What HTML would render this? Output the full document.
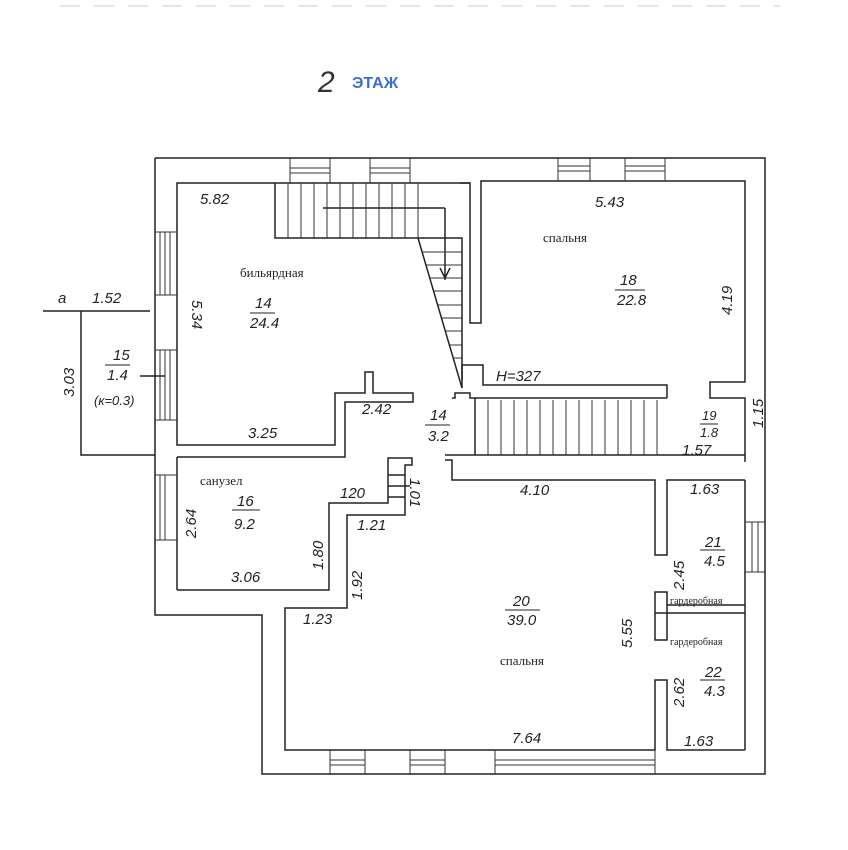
<!DOCTYPE html>
<html><head><meta charset="utf-8"><style>
body{margin:0;background:#fff;}
svg{display:block}
.h{font-family:"Liberation Sans",sans-serif;font-style:italic;font-size:15px;fill:#222}
.t{font-family:"Liberation Serif",serif;font-size:13px;fill:#222}
</style></head><body>
<svg width="848" height="850" viewBox="0 0 848 850" xmlns="http://www.w3.org/2000/svg">
<rect width="848" height="850" fill="#fff"/>
<g stroke="#ccc" stroke-width="1"><line x1="60" y1="6" x2="780" y2="6" stroke-dasharray="20 14"/></g>
<text x="318" y="92" font-family="Liberation Sans" font-style="italic" font-size="30" fill="#333">2</text>
<text x="352" y="88" font-family="Liberation Sans" font-weight="bold" font-size="16" fill="#3a6fd0">ЭТАЖ</text>
<g stroke="#222" stroke-width="1.5" fill="none">
<!-- outer walls -->
<polyline points="155,158 765,158 765,774 262,774 262,615 155,615 155,158"/>
<!-- balcony -->
<polyline points="43,311 150,311"/><polyline points="81,311 81,455 155,455"/>
<line x1="140" y1="376" x2="165" y2="376"/>
<!-- billiard room -->
<polyline points="470,183 177,183 177,445 335,445 335,393 365,393 365,372 373,372 373,393 413,393 413,402 345,402 345,457 177,457"/>
<!-- upper stair -->
<polyline points="275,183 275,238 418,238"/>
<polyline points="418,238 462,238 462,380"/>
<line x1="418" y1="238" x2="462" y2="388"/>
<line x1="323" y1="208" x2="445" y2="208"/><line x1="445" y1="208" x2="445" y2="280"/>
<line x1="440" y1="268" x2="445" y2="278"/><line x1="450" y1="268" x2="445" y2="278"/>
<!-- bedroom 18 -->
<polyline points="460,183 470,183 470,323 481,323 481,181 745,181 745,382 710,382 710,398 745,398 745,462"/>
<polyline points="462,388 462,365 483,365 483,385 667,385 667,398"/>
<!-- lower stair -->
<polyline points="452,398 455,398 455,393 470,393 470,398 667,398"/>
<line x1="475" y1="398" x2="475" y2="455"/>
<polyline points="445,455 745,455"/>
<polyline points="445,460 452,460 452,480 655,480 655,555 667,555 667,480 745,480"/>
<!-- sanuzel -->
<polyline points="177,590 329,590 329,503 388,503 388,458 412,458 412,465 405,465 405,515 347,515 347,608 285,608 285,750 655,750 655,680 667,680 667,750 745,750"/>
<line x1="177" y1="457" x2="177" y2="590"/>
<line x1="388" y1="475" x2="405" y2="475"/><line x1="388" y1="486" x2="410" y2="486"/><line x1="388" y1="497" x2="405" y2="497"/>
<!-- garderobe -->
<polyline points="667,613 655,613 655,592 667,592 667,640 655,640 655,613"/>
<line x1="667" y1="605" x2="745" y2="605"/><line x1="667" y1="613" x2="745" y2="613"/>
<line x1="745" y1="480" x2="745" y2="750"/>
</g>
<g stroke="#333" stroke-width="1" fill="none">
<!-- treads lower stair -->
<path d="M488 400V455M501 400V455M514 400V455M527 400V455M540 400V455M553 400V455M566 400V455M579 400V455M592 400V455M605 400V455M618 400V455M631 400V455M644 400V455M657 400V455"/>
<!-- treads upper stair -->
<path d="M288 183V238M301 183V238M314 183V238M327 183V238M340 183V238M353 183V238M366 183V238M379 183V238M392 183V238M405 183V238M418 183V238"/>
<path d="M422 252H462M426 265H462M430 278H462M434 291H462M438 305H462M442 318H462M446 331H462M450 345H462M454 358H462"/>
<!-- windows -->
<path d="M290 158V183M330 158V183M290 168H330M290 173H330M370 158V183M410 158V183M370 168H410M370 173H410"/>
<path d="M558 158V181M590 158V181M558 166H590M558 171H590M625 158V181M665 158V181M625 166H665M625 171H665"/>
<path d="M155 232H177M155 295H177M160 232V295M165 232V295M170 232V295"/>
<path d="M155 350H177M155 420H177M160 350V420M165 350V420M170 350V420"/>
<path d="M155 475H177M155 540H177M160 475V540M165 475V540"/>
<path d="M745 522H765M745 572H765M752 522V572M758 522V572"/>
<path d="M330 750V774M365 750V774M330 760H365M330 765H365M410 750V774M445 750V774M410 760H445M410 765H445M495 750V774M655 750V774M495 760H655M495 765H655"/>
</g>
<g class="t">
<text x="240" y="277">бильярдная</text>
<text x="543" y="242">спальня</text>
<text x="200" y="485">санузел</text>
<text x="500" y="665">спальня</text>
<text x="670" y="604" font-size="10">гардеробная</text>
<text x="670" y="645" font-size="10">гардеробная</text>
</g>
<g class="h">
<text x="200" y="204">5.82</text>
<text x="595" y="207">5.43</text>
<text x="255" y="308">14</text><line x1="250" y1="313" x2="275" y2="313" stroke="#222"/><text x="250" y="328">24.4</text>
<text x="620" y="285">18</text><line x1="615" y1="290" x2="645" y2="290" stroke="#222"/><text x="617" y="305">22.8</text>
<text x="58" y="303">а</text><text x="92" y="303">1.52</text>
<text x="113" y="360">15</text><line x1="105" y1="365" x2="130" y2="365" stroke="#222"/><text x="107" y="380">1.4</text>
<text x="94" y="405" font-size="13">(к=0.3)</text>
<text x="248" y="438">3.25</text><text x="362" y="414">2.42</text>
<text x="430" y="420">14</text><line x1="425" y1="425" x2="450" y2="425" stroke="#222"/><text x="428" y="441">3.2</text>
<text x="496" y="381">H=327</text>
<text x="702" y="420" font-size="13">19</text><line x1="700" y1="424" x2="718" y2="424" stroke="#222"/><text x="700" y="437" font-size="13">1.8</text>
<text x="682" y="455">1.57</text>
<text x="520" y="495">4.10</text><text x="690" y="494">1.63</text>
<text x="340" y="498">120</text><text x="357" y="530">1.21</text>
<text x="237" y="506">16</text><line x1="232" y1="510" x2="260" y2="510" stroke="#222"/><text x="234" y="529">9.2</text>
<text x="231" y="582">3.06</text><text x="303" y="624">1.23</text>
<text x="705" y="547">21</text><line x1="700" y1="550" x2="725" y2="550" stroke="#222"/><text x="704" y="566">4.5</text>
<text x="513" y="606">20</text><line x1="505" y1="610" x2="540" y2="610" stroke="#222"/><text x="507" y="625">39.0</text>
<text x="705" y="677">22</text><line x1="700" y1="680" x2="725" y2="680" stroke="#222"/><text x="704" y="696">4.3</text>
<text x="512" y="743">7.64</text><text x="684" y="746">1.63</text>
</g>
<g class="h" font-size="14">
<text transform="translate(192,300) rotate(90)">5.34</text>
<text transform="translate(732,315) rotate(-90)">4.19</text>
<text transform="translate(763,428) rotate(-90)">1.15</text>
<text transform="translate(74,397) rotate(-90)">3.03</text>
<text transform="translate(196,538) rotate(-90)">2.64</text>
<text transform="translate(323,570) rotate(-90)">1.80</text>
<text transform="translate(362,600) rotate(-90)">1.92</text>
<text transform="translate(410,478) rotate(90)">1.01</text>
<text transform="translate(684,590) rotate(-90)">2.45</text>
<text transform="translate(632,648) rotate(-90)">5.55</text>
<text transform="translate(684,707) rotate(-90)">2.62</text>
</g>
</svg>
</body></html>
